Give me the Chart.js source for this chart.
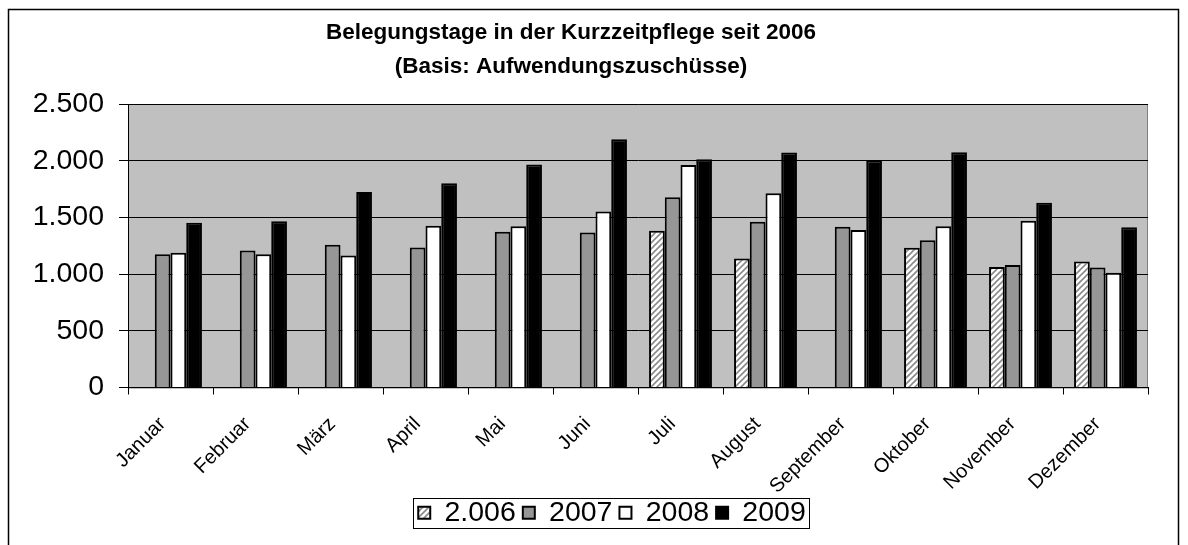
<!DOCTYPE html>
<html>
<head>
<meta charset="utf-8">
<script src="https://cdn.jsdelivr.net/npm/chart.js@4.4.0/dist/chart.umd.min.js"></script>
<style>
  html, body { margin: 0; padding: 0; background: #fff; }
  #wrap { width: 1188px; height: 545px; position: relative; }
</style>
</head>
<body>
<div id="wrap"><canvas id="chart" width="1188" height="545"></canvas></div>
<script>
// Daten
const monate = ['Januar', 'Februar', 'März', 'April', 'Mai', 'Juni', 'Juli', 'August', 'September', 'Oktober', 'November', 'Dezember'];
const jahre = ['2.006', '2007', '2008', '2009'];
const werte2006 = [null, null, null, null, null, null, 1382, 1137, null, 1232, 1063, 1111];
const werte2007 = [1175, 1208, 1258, 1235, 1373, 1367, 1677, 1462, 1418, 1299, 1081, 1058];
const werte2008 = [1188, 1175, 1164, 1427, 1423, 1553, 1963, 1712, 1388, 1423, 1471, 1013];
const werte2009 = [1453, 1465, 1724, 1801, 1966, 2190, 2013, 2072, 2002, 2075, 1630, 1414];
const titelZeilen = ['Belegungstage in der Kurzzeitpflege seit 2006', '(Basis: Aufwendungszuschüsse)'];

const schrift = '"Liberation Sans", Arial, sans-serif';

// Schraffur für 2006
function schraffur() {
    const c = document.createElement('canvas');
    c.width = 6; c.height = 6;
    const g = c.getContext('2d');
    g.fillStyle = '#ffffff';
    g.fillRect(0, 0, 6, 6);
    g.strokeStyle = '#8a8a8a';
    g.lineWidth = 1.6;
    [[-3, 3, 3, -3], [0, 6, 6, 0], [3, 9, 9, 3]].forEach(l => {
        g.beginPath();
        g.moveTo(l[0], l[1]);
        g.lineTo(l[2], l[3]);
        g.stroke();
    });
    return g.createPattern(c, 'repeat');
}

function tausender(v) {
    return String(v).replace(/\B(?=(\d{3})+(?!\d))/g, '.');
}

// Rahmen, Hintergrund, Titel, Legendenrahmen
const rahmenPlugin = {
    id: 'rahmen',
    afterLayout(chart) {
        // Legende wie im Original etwas nach rechts
        const lg = chart.legend;
        if (lg) { lg.left += 38; lg.right += 38; }
    },
    beforeDraw(chart) {
        const ctx = chart.ctx;
        const a = chart.chartArea;
        ctx.save();
        ctx.fillStyle = '#c0c0c0';
        ctx.fillRect(a.left, a.top, a.right - a.left, a.bottom - a.top);
        ctx.strokeStyle = '#808080';
        ctx.lineWidth = 1;
        ctx.strokeRect(a.left + 0.5, a.top + 0.5, a.right - a.left - 1, a.bottom - a.top);
        ctx.strokeStyle = '#000';
        ctx.lineWidth = 1.5;
        ctx.strokeRect(8.5, 9.5, 1170, 600);
        ctx.restore();
    },
    afterDraw(chart) {
        const ctx = chart.ctx;
        ctx.save();
        ctx.fillStyle = '#000';
        ctx.font = 'bold 22.5px ' + schrift;
        ctx.textAlign = 'center';
        ctx.textBaseline = 'middle';
        ctx.fillText(titelZeilen[0], 571, 33);
        ctx.fillText(titelZeilen[1], 571, 67);
        const boxes = chart.legend.legendHitBoxes;
        if (boxes && boxes.length) {
            const l = Math.min(...boxes.map(b => b.left));
            const r = Math.max(...boxes.map(b => b.left + b.width));
            const t = Math.min(...boxes.map(b => b.top));
            const h = Math.max(...boxes.map(b => b.height));
            ctx.strokeStyle = '#000';
            ctx.lineWidth = 1;
            ctx.strokeRect(Math.round(l - 5) + 0.5, Math.round(t - 1) + 0.5, Math.round(r - l + 8), Math.round(h + 1));
        }
        ctx.restore();
    }
};

new Chart(document.getElementById('chart'), {
    type: 'bar',
    data: {
        labels: monate,
        datasets: [
            { label: jahre[0], data: werte2006, backgroundColor: schraffur(), borderColor: '#000', borderWidth: 2 },
            { label: jahre[1], data: werte2007, backgroundColor: '#969696', borderColor: '#000', borderWidth: 2 },
            { label: jahre[2], data: werte2008, backgroundColor: '#ffffff', borderColor: '#000', borderWidth: 2 },
            { label: jahre[3], data: werte2009, backgroundColor: '#000000', borderColor: '#000', borderWidth: 2 }
        ]
    },
    options: {
        responsive: false,
        animation: false,
        categoryPercentage: 0.74,
        barPercentage: 1.0,
        layout: { padding: { top: 104, left: 0, right: 40, bottom: 8 } },
        plugins: {
            title: { display: false },
            tooltip: { enabled: false },
            legend: {
                position: 'bottom',
                labels: {
                    font: { family: schrift, size: 28.5 },
                    color: '#000',
                    boxWidth: 12,
                    boxHeight: 12,
                    padding: 7
                }
            }
        },
        scales: {
            x: {
                afterFit(scale) { scale.height = 104; },
                grid: { display: true, drawOnChartArea: false, drawTicks: true, tickLength: 7, color: '#000', offset: true },
                border: { color: '#000', width: 1 },
                ticks: {
                    color: '#000',
                    font: { family: schrift, size: 20 },
                    minRotation: 45,
                    maxRotation: 45,
                    autoSkip: false,
                    padding: 18,
                    labelOffset: -8
                }
            },
            y: {
                min: 0,
                max: 2500,
                afterFit(scale) { scale.width = 128; },
                grid: { color: '#000', tickLength: 9 },
                border: { color: '#000', width: 1 },
                ticks: {
                    stepSize: 500,
                    color: '#000',
                    padding: 15,
                    font: { family: schrift, size: 28.5 },
                    callback: v => tausender(v)
                }
            }
        }
    },
    plugins: [rahmenPlugin]
});
</script>
</body>
</html>
